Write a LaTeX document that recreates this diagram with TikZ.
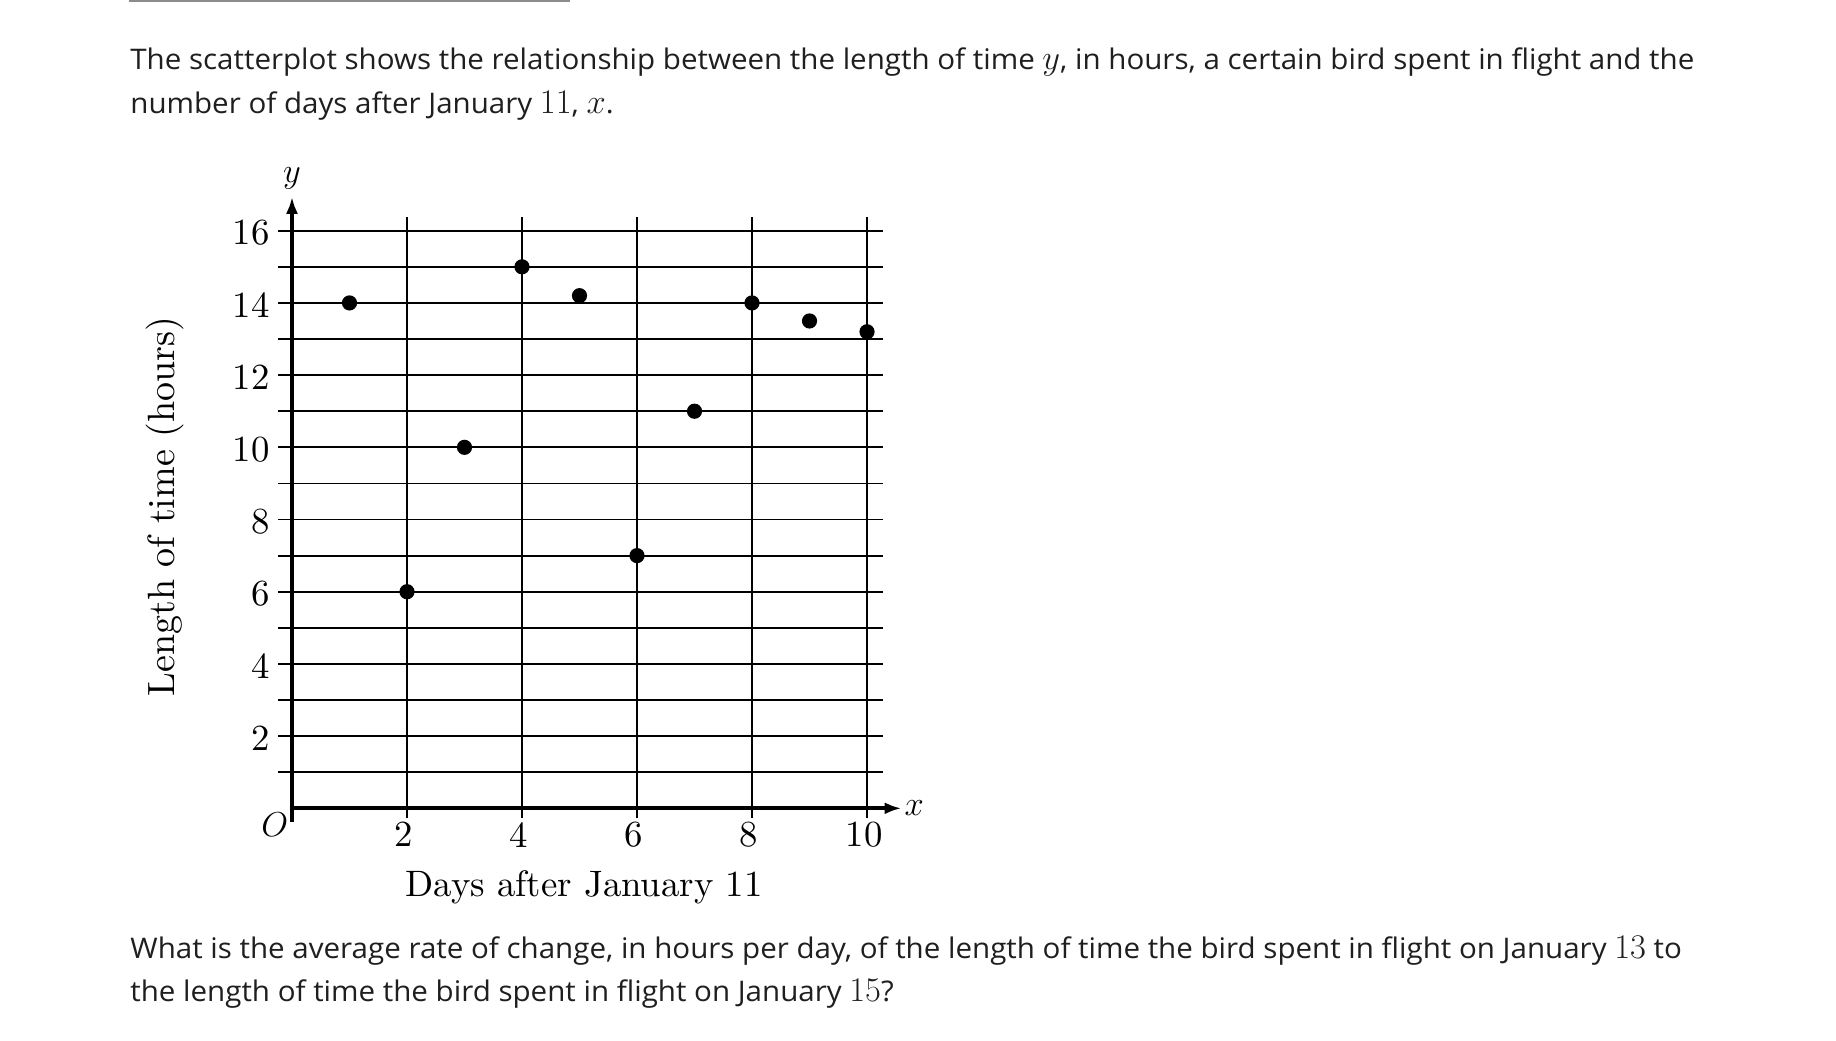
\documentclass[tikz,border=0pt]{standalone}
\usepackage{fontspec}
\newfontfamily\bodyfont{Open Sans}[FakeStretch=1.04]
\newfontfamily\chartfont{lmroman10-regular.otf}
\usetikzlibrary{arrows.meta}
\definecolor{bodygray}{HTML}{1F1F1F}
\definecolor{rulegray}{HTML}{8C8C8C}
\newcommand\kmath[1]{{\fontsize{17.5pt}{17pt}\selectfont$#1$}}
\begin{document}
\begin{tikzpicture}[x=0.5pt,y=-0.5pt,
  bodytext/.style={anchor=base west, inner sep=0, font=\bodyfont\fontsize{14.2pt}{17pt}\selectfont, text=bodygray},
  chartlabel/.style={inner sep=0, font=\chartfont\fontsize{18.4pt}{22pt}\selectfont},
  gridline/.style={line width=0.9pt},
  axisline/.style={line width=2pt, -{Latex[length=8.5pt,width=6pt]}},
  datadot/.style={circle, fill=black, inner sep=0, minimum size=7.6pt}]
\useasboundingbox (0,0) rectangle (1836,1040);
\fill[white] (0,0) rectangle (1836,1040);
% top rule
\draw[rulegray, line width=1.2pt] (129,1) -- (570,1);
% question text
\node[bodytext] (t1) at (130,69.3) {The scatterplot shows the relationship between the length of time \kmath{y}, in hours, a certain bird spent in flight and the};
\node[bodytext] (t2) at (130,113.3) {number of days after January \kmath{11}, \kmath{x}.};
\node[bodytext] (b1) at (130,958.3) {What is the average rate of change, in hours per day, of the length of time the bird spent in flight on January \kmath{13} to};
\node[bodytext] (b2) at (130,1001.7) {the length of time the bird spent in flight on January \kmath{15}?};
% chart
\begin{scope}[shift={(146pt,-404.15pt)}, x=28.75pt, y=18.05pt]
  \foreach \j in {1,...,16} \draw[gridline] (-0.243,\j) -- (10.28,\j);
  \foreach \i in {2,4,...,10} \draw[gridline] (\i,-0.27) -- (\i,16.39);
  \coordinate (ybot) at (0,-0.38);
  \coordinate (ytop) at (0,16.94);
  \coordinate (xleft) at (-0.03,0);
  \coordinate (xright) at (10.6,0);
  \draw[axisline] (ybot) -- (ytop);
  \draw[axisline] (xleft) -- (xright);
  \foreach \j in {2,4,...,16} \node[chartlabel, anchor=east] (yl\j) at (-0.38,\j-0.06) {\j};
  \foreach \i in {2,4,...,10} \node[chartlabel, anchor=north] (xl\i) at (\i-0.05,-0.38) {\i};
  \node[chartlabel] (orig) at (-0.3,-0.46) {$O$};
  \node[chartlabel] (ylab) at (0,17.45) {$y$};
  \node[chartlabel] (xlab) at (10.82,0) {$x$};
  \node[chartlabel, anchor=base] (xtitle) at (5.08,-2.45) {Days after January 11};
  \node[chartlabel, anchor=base, rotate=90, font=\chartfont\fontsize{19pt}{22pt}\selectfont] (ytitle) at (-2.035,8.36) {Length of time (hours)};
  \foreach \px/\py [count=\k] in {1/14,2/6,3/10,4/15,5/14.2,6/7,7/11,8/14,9/13.5,10/13.2}
    \node[datadot] (p\k) at (\px,\py) {};
\end{scope}
\end{tikzpicture}
\end{document}
